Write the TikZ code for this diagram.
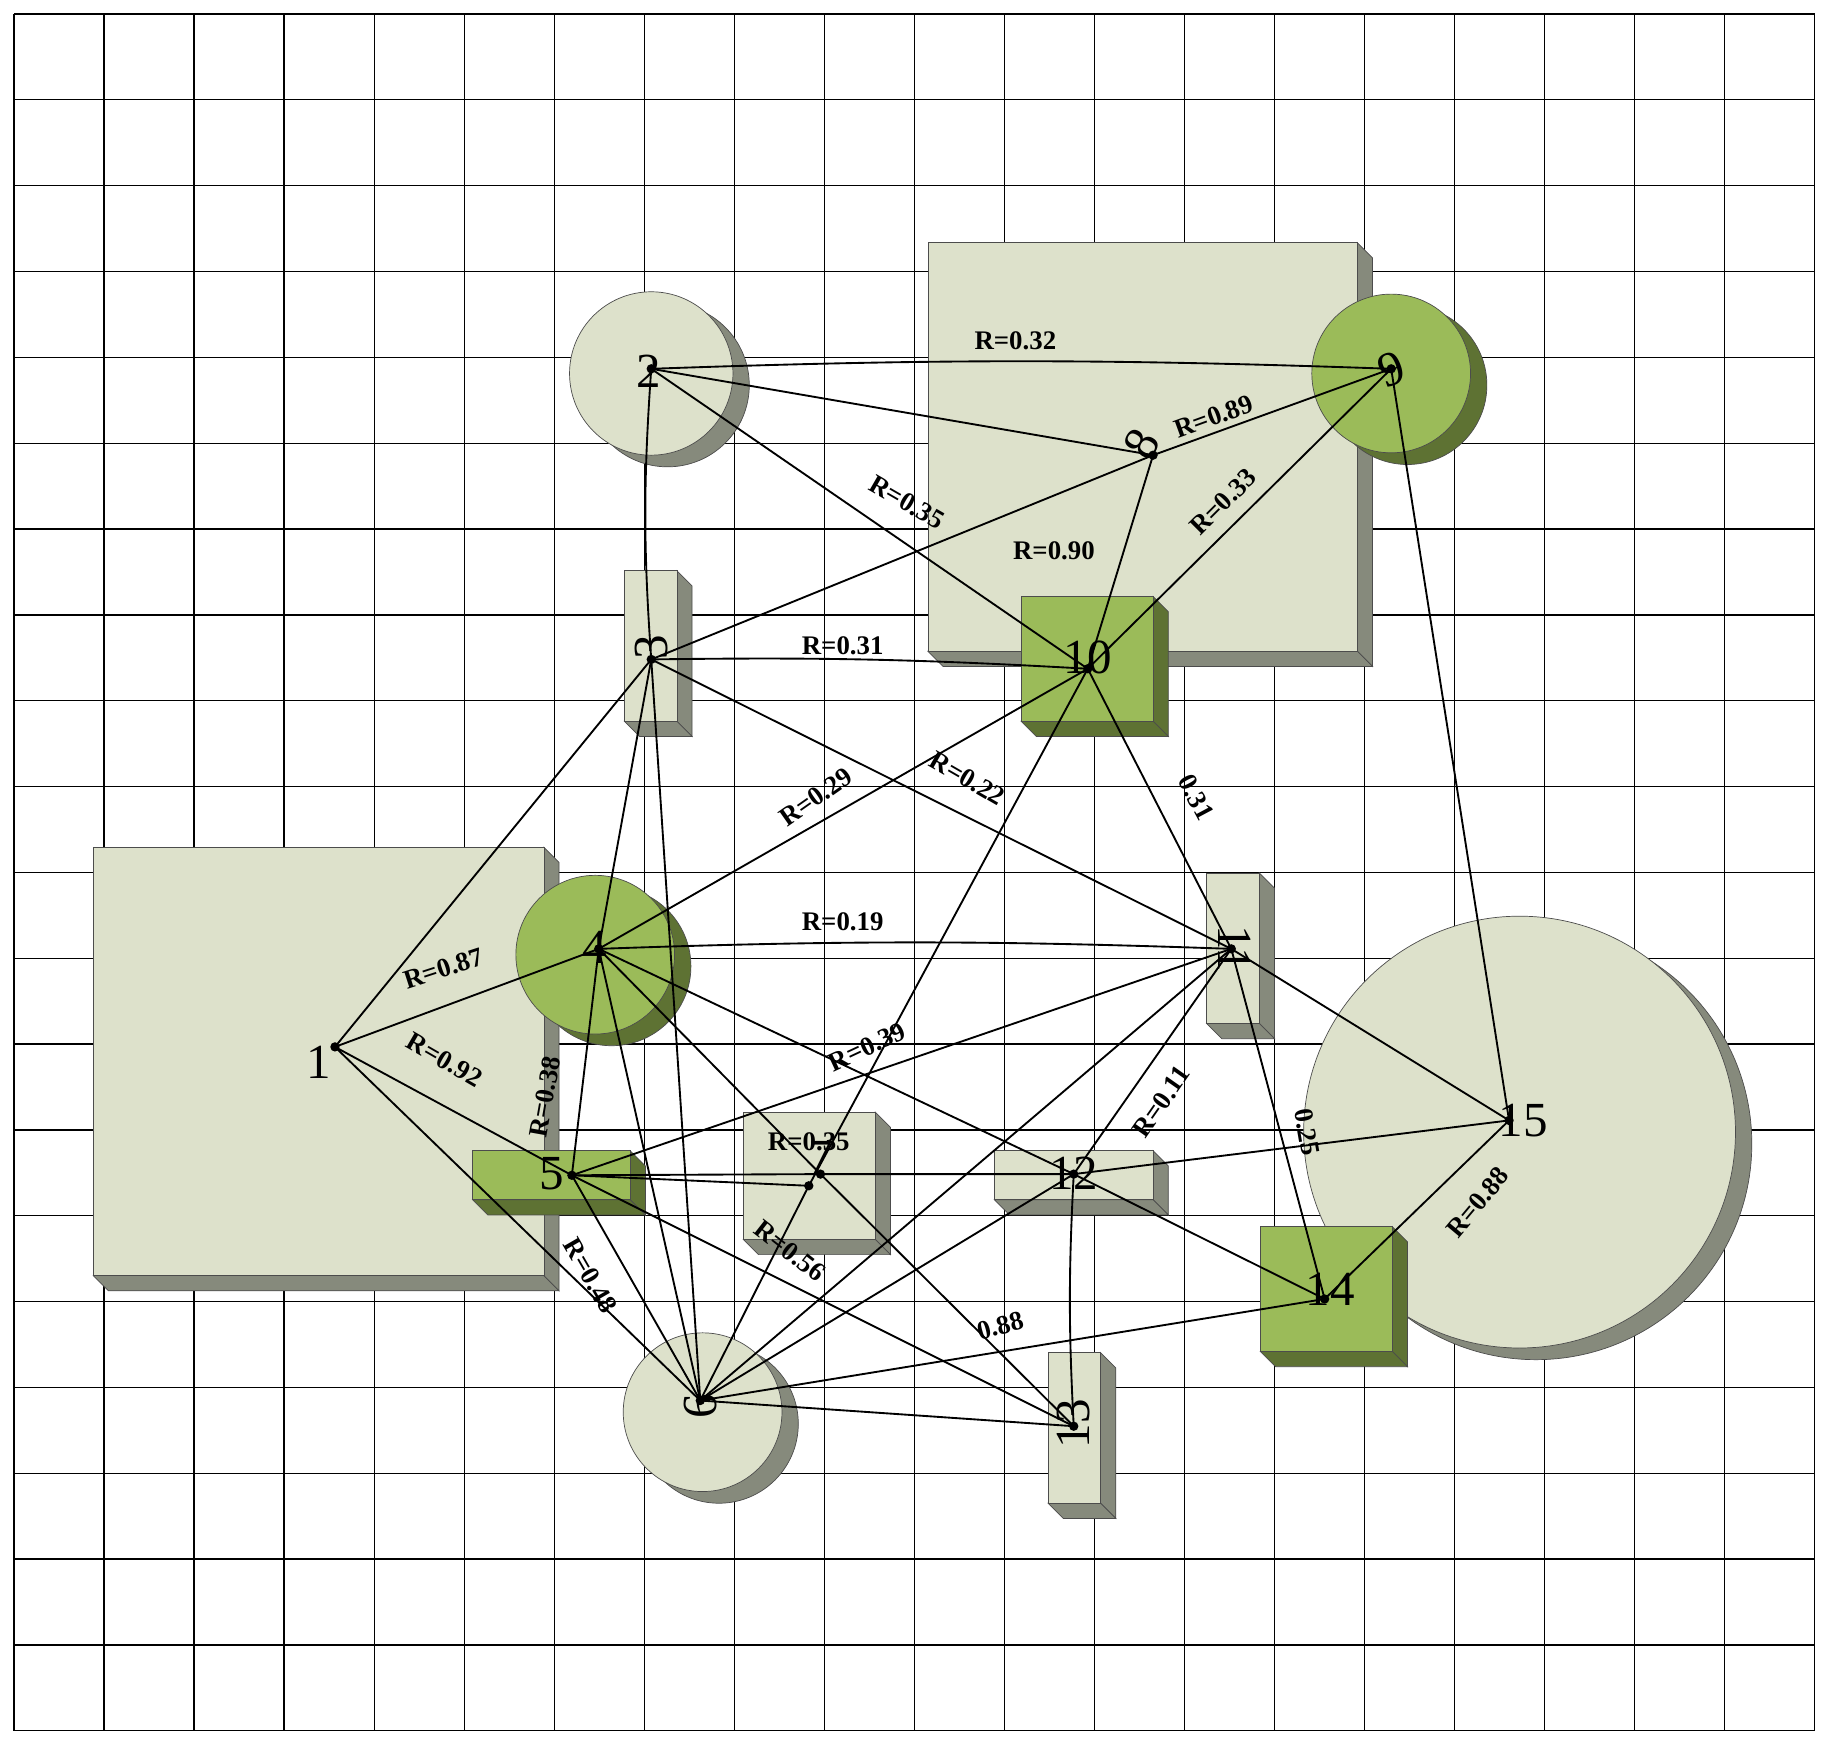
\documentclass[tikz,border=0pt]{standalone}
\usepackage{fontspec}
\setmainfont{Liberation Serif}
\definecolor{lf}{HTML}{DDE1CB}
\definecolor{ld}{HTML}{868A7C}
\definecolor{gf}{HTML}{9BBB59}
\definecolor{gd}{HTML}{5E7233}
\newcommand\mybox[6]{%
 \filldraw[draw=black!70,line width=0.6pt,fill=#6] (#3,#2)--(#3+13,#2+13)--(#3+13,#4+13)--(#3,#4)--cycle;
 \filldraw[draw=black!70,line width=0.6pt,fill=#6] (#1,#4)--(#3,#4)--(#3+13,#4+13)--(#1+13,#4+13)--cycle;
 \filldraw[draw=black!70,line width=0.6pt,fill=#5] (#1,#2) rectangle (#3,#4);}
\newcommand\mycyl[5]{%
 \filldraw[draw=black!70,line width=0.6pt,fill=#5] (#1+14,#2+10) circle[radius=#3];
 \filldraw[draw=black!70,line width=0.6pt,fill=#4] (#1,#2) circle[radius=#3];}
\tikzset{
 dot/.style={circle,fill=black,inner sep=0pt,minimum size=8pt},
 num/.style={font=\fontsize{42}{42}\selectfont},
 lab/.style={font=\fontsize{23}{23}\selectfont\bfseries,inner sep=1pt},
 edge/.style={line width=1.6pt}}
\begin{document}
\begin{tikzpicture}[x=1pt,y=-1pt]
\useasboundingbox (0,0) rectangle (1568,1496);
\fill[white] (0,0) rectangle (1568,1496);
\foreach \i in {0,...,20}{
 \draw[line width=1.1pt] ({12+\i*77.15},12)--({12+\i*77.15},1483);
 \draw[line width=1.1pt] (12,{12+\i*73.55})--(1555,{12+\i*73.55});}
% shapes
\mybox{80}{726}{466}{1093}{lf}{ld}
\mybox{795}{208}{1163}{558}{lf}{ld}
\mycyl{1302}{970}{185}{lf}{ld}
\mycyl{558}{320}{70}{lf}{ld}
\mycyl{1192}{320}{68}{gf}{gd}
\mycyl{510}{818}{68}{gf}{gd}
\mycyl{602}{1210}{68}{lf}{ld}
\mybox{535}{489}{580}{618}{lf}{ld}
\mybox{875}{511}{988}{618}{gf}{gd}
\mybox{1034}{748}{1079}{877}{lf}{ld}
\mybox{405}{986}{540}{1028}{gf}{gd}
\mybox{637}{953}{750}{1062}{lf}{ld}
\mybox{852}{986}{988}{1028}{lf}{ld}
\mybox{898}{1159}{943}{1288}{lf}{ld}
\mybox{1080}{1051}{1193}{1158}{gf}{gd}
% node labels
\node[num] at (273,910) {1};
\node[num] at (556,318) {2};
\node[num,rotate=90] at (558,555) {3};
\node[num] at (510,812) {4};
\node[num] at (473,1006) {5};
\node[num,rotate=90] at (600,1205) {6};
\node[num] at (703,992) {7};
\node[num,rotate=60] at (978,380) {8};
\node[num,rotate=20] at (1192,316) {9};
\node[num] at (932,563) {10};
\node[num,rotate=-90] at (1058,813) {11};
\node[num] at (920,1005) {12};
\node[num,rotate=90] at (920,1220) {13};
\node[num] at (1140,1105) {14};
\node[num] at (1305,960) {15};
% nodes
\node[dot] (n1) at (287,897) {};
\node[dot] (n2) at (558,316) {};
\node[dot] (n3) at (558,565) {};
\node[dot] (n4) at (513,813) {};
\node[dot] (n5) at (490,1007) {};
\node[dot] (n6) at (600,1200) {};
\node[dot] (n7) at (703,1006) {};
\node[dot] (n7b) at (693,1016) {};
\node[dot] (n8) at (988,390) {};
\node[dot] (n9) at (1192,316) {};
\node[dot] (n10) at (932,573) {};
\node[dot] (n11) at (1055,813) {};
\node[dot] (n12) at (920,1006) {};
\node[dot] (n13) at (920,1222) {};
\node[dot] (n14) at (1135,1113) {};
\node[dot] (n15) at (1293,960) {};
% edges
\begin{scope}[edge]
\draw (n2.center) to[bend left=2] (n9.center);
\draw (n2.center)--(n8.center);
\draw (n2.center)--(n10.center);
\draw (n2.center) to[bend right=4] (n3.center);
\draw (n3.center)--(n8.center);
\draw (n8.center)--(n9.center);
\draw (n8.center)--(n10.center);
\draw (n9.center)--(n10.center);
\draw (n9.center)--(n15.center);
\draw (n3.center) to[bend left=2] (n10.center);
\draw (n3.center)--(n1.center);
\draw (n3.center)--(n4.center);
\draw (n3.center)--(n6.center);
\draw (n3.center)--(n11.center);
\draw (n11.center)--(n15.center);
\draw (n10.center)--(n4.center);
\draw (n10.center)--(n7b.center)--(n6.center);
\draw (n10.center)--(n11.center);
\draw (n11.center)--(n14.center);
\draw (n4.center) to[bend left=2] (n11.center);
\draw (n4.center)--(n1.center);
\draw (n4.center)--(n5.center);
\draw (n4.center)--(n6.center);
\draw (n4.center)--(n7.center);
\draw (n4.center)--(n12.center)--(n14.center);
\draw (n1.center)--(n5.center);
\draw (n1.center)--(n6.center);
\draw (n5.center)--(n11.center);
\draw (n5.center)--(n7.center)--(n12.center);
\draw (n5.center)--(n7b.center);
\draw (n5.center)--(n6.center);
\draw (n5.center)--(n13.center);
\draw (n12.center)--(n15.center);
\draw (n12.center) to[bend right=3] (n13.center);
\draw (n12.center)--(n11.center);
\draw (n6.center)--(n11.center);
\draw (n6.center)--(n12.center);
\draw (n6.center)--(n14.center);
\draw (n6.center)--(n13.center);
\draw (n7.center)--(n13.center);
\draw (n14.center)--(n15.center);
\end{scope}
% edge labels
\node[lab] at (870,292) {R=0.32};
\node[lab,rotate=20] at (1040,357) {R=0.89};
\node[lab,rotate=-30] at (777,430) {R=0.35};
\node[lab,rotate=45] at (1048,430) {R=0.33};
\node[lab] at (903,472) {R=0.90};
\node[lab] at (722,553) {R=0.31};
\node[lab,rotate=35] at (699,683) {R=0.29};
\node[lab,rotate=-30] at (829,667) {R=0.22};
\node[lab,rotate=-62] at (1025,683) {0.31};
\node[lab] at (722,790) {R=0.19};
\node[lab,rotate=18] at (380,830) {R=0.87};
\node[lab,rotate=-30] at (381,908) {R=0.92};
\node[lab,rotate=25] at (743,897) {R=0.39};
\node[lab,rotate=80] at (467,940) {R=0.38};
\node[lab,rotate=55] at (995,944) {R=0.11};
\node[lab,rotate=-80] at (1120,970) {0.25};
\node[lab] at (693,978) {R=0.35};
\node[lab,rotate=-38] at (677,1072) {R=0.56};
\node[lab,rotate=-60] at (506,1093) {R=0.48};
\node[lab,rotate=15] at (857,1136) {0.88};
\node[lab,rotate=50] at (1266,1030) {R=0.88};
\end{tikzpicture}
\end{document}
